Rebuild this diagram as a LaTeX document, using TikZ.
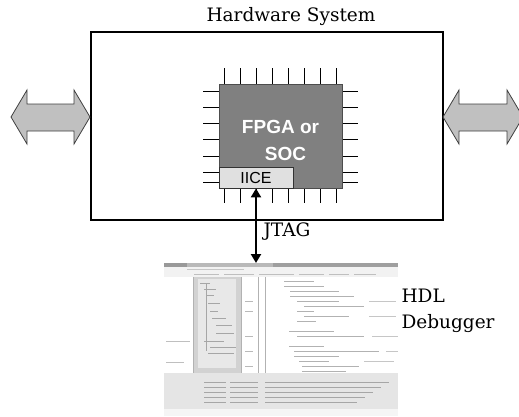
\documentclass[tikz,border=0pt]{standalone}
\usepackage{fontspec}
\setmainfont{DejaVu Serif}
\newfontfamily\chipfont{Liberation Sans}
\usetikzlibrary{arrows.meta, positioning}
\definecolor{cchip}{HTML}{808080}
\definecolor{ciice}{HTML}{E0E0E0}
\definecolor{cbus}{HTML}{C0C0C0}
\tikzset{
  every picture/.style={x=1pt, y=-1pt},
  sysbox/.style={draw, line width=2.6pt, minimum width=352pt, minimum height=188pt, inner sep=0pt},
  chip/.style={draw=black!70, fill=cchip, line width=0.8pt, minimum width=123pt, minimum height=104pt, inner sep=0pt},
  chiptext/.style={text=white, align=center, font=\chipfont\bfseries\fontsize{19}{27}\selectfont},
  iicebox/.style={draw=black!80, fill=ciice, line width=0.8pt, minimum width=74pt, minimum height=21pt, inner sep=0pt, font=\chipfont\fontsize{16}{16}\selectfont},
  pin/.style={line width=1pt},
  bus/.style={draw=black!75, fill=cbus, line width=0.8pt},
  jtag/.style={{Triangle[length=9pt,width=10pt]}-{Triangle[length=9pt,width=10pt]}, line width=2.2pt},
  label/.style={font=\fontsize{18.5}{26}\selectfont},
  shot/.style={line width=1pt, draw=gray!60},
}

\begin{document}
\begin{tikzpicture}
  \useasboundingbox (0,0) rectangle (519,416);
  % board with the chip
  \node[sysbox] (hwsys) at (267,126) {};
  \node[label] (hwlabel) at (291,17) {Hardware System};
  % pins first, the chip covers their inner ends
  \foreach \x in {224,240,...,336} {
    \draw[pin] (\x,68) -- (\x,84);
    \draw[pin] (\x,188) -- (\x,203);
  }
  \foreach \y in {91,107,123,139,156,172,182} {
    \draw[pin] (203,\y) -- (219,\y);
    \draw[pin] (342,\y) -- (358,\y);
  }
  \node[chip] (fpga) at (280.5,136) {};
  \node[chiptext] (fpgalabel) at ([yshift=-4pt]fpga.center) {FPGA or\\\hspace*{10pt}SOC};
  \node[iicebox, anchor=south west] (iice) at (fpga.south west) {IICE};
  % the two busses leaving the board
  \draw[bus] (11,117) -- (27,90) -- (27,104) -- (74,104) -- (74,90) -- (90,117)
    -- (74,144) -- (74,131) -- (27,131) -- (27,144) -- cycle;
  \draw[bus] (443,117) -- (459,90) -- (459,104) -- (507,104) -- (507,90) -- (523,117)
    -- (507,144) -- (507,131) -- (459,131) -- (459,144) -- cycle;
  % debugger screen shot
  \node[minimum width=234pt, minimum height=153pt, inner sep=0pt, anchor=north west] (debugger) at (164,263) {};
  \begin{scope}[shift={(debugger.north west)}]
    \fill[gray!10] (0,0) rectangle (234,153);
    \fill[gray!55] (0,0) rectangle (234,4);
    \fill[gray!80] (0,0) rectangle (23,4);
    \fill[gray!75] (109,0) rectangle (234,4);
    \draw[shot, gray!45] (23,6.5) -- (80,6.5);
    \foreach \a/\b in {30/55, 60/90, 95/130, 135/160, 165/185, 190/212}
      \draw[shot, gray!50] (\a,11) -- (\b,11);
    \fill[white] (0,14) rectangle (29,110);
    \fill[gray!35] (29,14) rectangle (77,110);
    \fill[gray!18] (34,16) rectangle (72,105);
    \fill[white] (77,14) rectangle (234,110);
    \draw[gray!60, line width=0.7pt] (29,14) -- (29,110) (77,14) -- (77,110) (94,14) -- (94,110) (101,14) -- (101,110);
    % tree view
    \foreach \y/\a/\b in {20/36/46, 26/40/52, 32/42/50, 40/44/56, 48/46/54, 55/48/62, 62/52/68, 70/52/70, 78/40/60, 84/46/72, 90/44/70}
      \draw[shot, gray!70] (\a,\y) -- (\b,\y);
    \draw[shot, gray!70] (42,20) -- (42,88);
    % line numbers and code
    \foreach \r in {4,6,11,14,17}
      \draw[shot, gray!55] (81,18+5*\r) -- (89,18+5*\r);
    \foreach \r/\a/\b in {0/120/150, 1/120/160, 2/126/175, 3/126/190, 4/133/175, 5/140/200, 6/133/150, 7/140/185,
                          8/133/152, 10/125/170, 11/133/200, 13/125/160, 14/130/215, 15/130/175, 16/135/165, 17/138/195, 18/138/182}
      \draw[shot] (\a,18+5*\r) -- (\b,18+5*\r);
    \foreach \r/\a/\b in {4/205/232, 7/205/232, 11/208/234, 14/222/234, 16/200/230}
      \draw[shot, gray!45] (\a,18+5*\r) -- (\b,18+5*\r);
    \draw[shot, gray!50] (2,78) -- (26,78) (2,99) -- (20,99);
    % bottom output window
    \fill[gray!20] (0,110) rectangle (234,146);
    \foreach \r in {0,...,4} {
      \draw[shot, gray!70] (40,119+5*\r) -- (62,119+5*\r);
      \draw[shot, gray!70] (66,119+5*\r) -- (94,119+5*\r);
      \draw[shot, gray!70] (101,119+5*\r) -- (225-8*\r,119+5*\r);
    }
    \fill[gray!8] (0,146) rectangle (234,153);
  \end{scope}
  % JTAG link
  \draw[jtag] (iice.south) -- (iice.south |- debugger.north);
  \node[label, anchor=west] (jtaglabel) at (260,232) {JTAG};
  \node[label, anchor=west, align=left] (hdl) at (398,311) {HDL\\Debugger};
\end{tikzpicture}
\end{document}
